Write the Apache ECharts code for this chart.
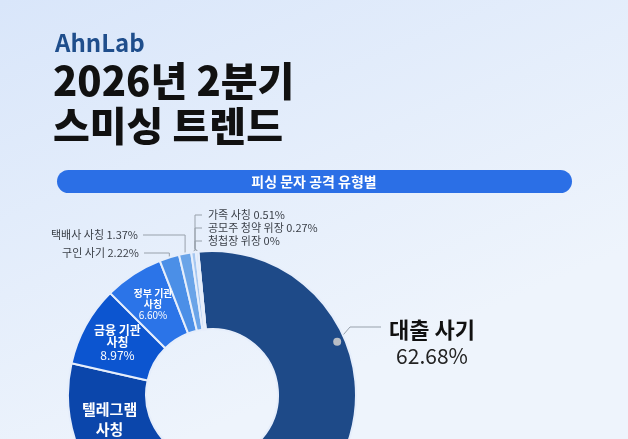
<!DOCTYPE html>
<html>
<head>
<meta charset="utf-8">
<script src="https://cdn.jsdelivr.net/npm/echarts@6/dist/echarts.min.js"></script>
<style>
  html, body { margin: 0; padding: 0; }
  #chart { width: 628px; height: 439px; }
</style>
</head>
<body>
<div id="chart"></div>
<script>
// 피싱 문자 공격 유형별 데이터
const categories = ['대출 사기', '텔레그램 사칭', '금융 기관 사칭', '정부 기관 사칭', '구인 사기', '택배사 사칭', '가족 사칭', '공모주 청약 위장', '청첩장 위장']
const shares = [62.68, 17.38, 8.97, 6.60, 2.22, 1.37, 0.51, 0.27, 0]
const colors = ['#1e4a88', '#0b46ab', '#0c55d0', '#2b74e8', '#4b8fe7', '#6aa4e8', '#a6c7f0', '#c2d8f4', '#d5e4f7']

const FONT = "'Noto Sans CJK KR', 'Noto Sans', sans-serif"
const CX = 212
const CY = 395
const R_IN = 66
const R_OUT = 144

const pct = (v) => (v === 0 ? '0%' : v.toFixed(2) + '%')

// 안쪽 라벨 크기
const insideStyle = {
  1: { size: 15, line: 20 },
  2: { size: 12, line: 12.5 },
  3: { size: 10, line: 11 }
}

// 바깥 라벨 위치
const outsidePos = {
  0: { x: 432, y: 343, align: 'center' },
  4: { x: 139, y: 253, align: 'right' },
  5: { x: 138, y: 235, align: 'right' },
  6: { x: 208, y: 215, align: 'left' },
  7: { x: 208, y: 228, align: 'left' },
  8: { x: 208, y: 241, align: 'left' }
}

const dotAngle = 23 * Math.PI / 180
const dot = [CX + 136 * Math.cos(dotAngle), CY - 136 * Math.sin(dotAngle)]

const data = categories.map((name, i) => {
  const item = { name, value: shares[i] }
  if (insideStyle[i]) {
    const s = insideStyle[i]
    const k = name.lastIndexOf(' ')
    item.label = {
      position: 'inside',
      formatter: '{b|' + name.slice(0, k) + '}\n{b|' + name.slice(k + 1) + '}\n{p|' + pct(shares[i]) + '}',
      rich: {
        b: { color: '#fff', fontSize: s.size, fontWeight: 'bold', lineHeight: s.line, fontFamily: FONT },
        p: { color: '#fff', fontSize: s.size, lineHeight: s.line, fontFamily: FONT }
      }
    }
    item.labelLine = { show: false }
  } else if (i === 0) {
    item.label = {
      formatter: '{n|' + name + '}\n{v|' + pct(shares[i]) + '}',
      rich: {
        n: { color: '#111', fontSize: 22, fontWeight: 'bold', lineHeight: 27, fontFamily: FONT },
        v: { color: '#222', fontSize: 21, lineHeight: 27, fontFamily: FONT }
      }
    }
  }
  return item
})

const myChart = echarts.init(document.getElementById('chart'))

const option = {
  backgroundColor: {
    type: 'linear', x: 0, y: 0, x2: 0.3, y2: 1,
    colorStops: [
      { offset: 0, color: '#d9e6fa' },
      { offset: 1, color: '#eef4fc' }
    ]
  },
  color: colors,
  graphic: [
    {
      type: 'text', left: 55, top: 31,
      style: { text: 'AhnLab', fill: '#1f4e8c', font: 'bold 24px ' + FONT }
    },
    {
      type: 'text', left: 53, top: 61,
      style: { text: '2026년 2분기', fill: '#111', font: '900 40px ' + FONT }
    },
    {
      type: 'text', left: 53, top: 106,
      style: { text: '스미싱 트렌드', fill: '#111', font: '900 40px ' + FONT }
    },
    {
      type: 'rect',
      shape: { x: 57, y: 170, width: 515, height: 23, r: 11.5 },
      style: { fill: '#2b6fe6' }
    },
    {
      type: 'text', x: 314, y: 182,
      style: {
        text: '피싱 문자 공격 유형별', fill: '#fff', font: 'bold 14px ' + FONT,
        align: 'center', verticalAlign: 'middle'
      }
    },
    {
      type: 'circle', z: 100,
      shape: { cx: dot[0], cy: dot[1], r: 4 },
      style: { fill: '#b8bdc5' }
    }
  ],
  series: [
    {
      type: 'pie',
      center: [CX, CY],
      radius: [R_IN, R_OUT],
      startAngle: 95.5,
      avoidLabelOverlap: false,
      itemStyle: { borderColor: '#e6eefb', borderWidth: 2 },
      label: {
        position: 'outside',
        color: '#3a3f47',
        fontSize: 11,
        fontFamily: FONT,
        formatter: (p) => p.name + ' ' + pct(p.value)
      },
      labelLine: {
        show: true,
        lineStyle: { color: '#98a1ab', width: 1 }
      },
      labelLayout: (params) => {
        const pos = outsidePos[params.dataIndex]
        if (!pos) return {}
        const start = params.labelLinePoints ? params.labelLinePoints[0] : [CX, CY - R_OUT]
        let pts
        if (params.dataIndex === 0) {
          pts = [dot, [350, 327], [381, 327]]
        } else if (pos.align === 'right') {
          pts = [start, [start[0], pos.y], [pos.x + 5, pos.y]]
        } else {
          pts = [start, [195, start[1] - 3], [195, pos.y], [202, pos.y]]
        }
        return {
          x: pos.x,
          y: pos.y,
          align: pos.align,
          verticalAlign: 'middle',
          labelLinePoints: pts
        }
      },
      data
    }
  ]
}

myChart.setOption(option)
window.addEventListener('resize', () => {
  myChart.resize()
})
</script>
</body>
</html>
